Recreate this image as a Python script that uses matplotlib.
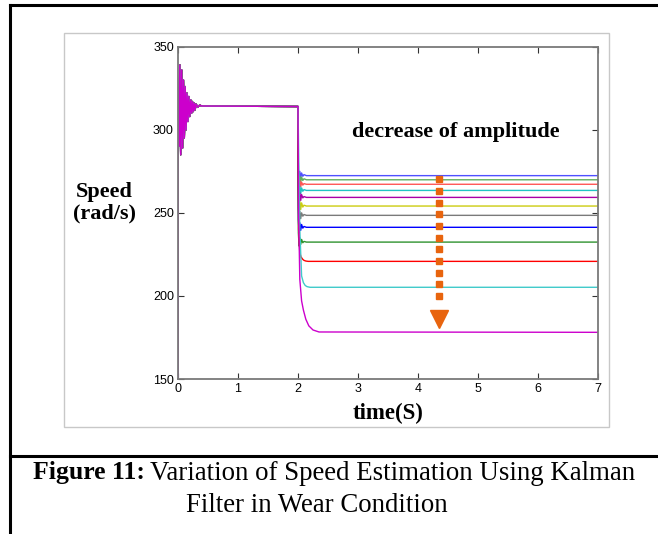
import numpy as np
import matplotlib.pyplot as plt
from matplotlib.lines import Line2D
from matplotlib.patches import Rectangle

# start-up transient, shared by every run
t_init = [0.000, 0.005, 0.015, 0.030, 0.045, 0.060, 0.075, 0.090, 0.105, 0.120,
          0.135, 0.150, 0.165, 0.180, 0.195, 0.210, 0.225, 0.240, 0.255, 0.270,
          0.285, 0.300, 0.330, 0.360, 0.400]
v_init = [150, 300, 290, 339, 285, 336, 289, 330, 295, 326,
          300, 322, 305, 320, 308, 318, 310, 317, 311, 316,
          312, 315.5, 313.5, 314.8, 314.3]

# after the load step at t = 2 s, one run per wear level
t_ring = [2.000, 2.006, 2.018, 2.030, 2.045, 2.060, 2.080, 2.100, 2.140, 7.000]
blue1 = [314, 276, 270, 275, 271, 274, 272, 273, 272.4, 272.4]
green1 = [314, 274, 267, 272, 268.5, 271.5, 269.5, 270.5, 269.9, 269.9]
red1 = [314, 271, 264, 269.5, 265.5, 268.5, 266.7, 267.6, 267.2, 267.2]
cyan1 = [314, 268, 260, 266, 261.5, 265, 263, 264, 263.5, 263.5]
mag1 = [314, 264, 256, 262, 257.5, 261, 259, 259.8, 259.3, 259.3]
yel1 = [314, 259, 250, 257, 252, 256, 253.5, 254.6, 254.1, 254.1]
gray1 = [314, 253, 245, 251, 246.5, 250, 248, 249, 248.5, 248.5]
blue2 = [314, 246, 238, 244, 239.5, 243, 240.8, 241.8, 241.3, 241.3]
green2 = [314, 238, 230, 235, 231, 234, 232, 232.8, 232.4, 232.4]

t_red2 = [2.0, 2.01, 2.03, 2.05, 2.08, 2.10, 2.13, 2.17, 7.0]
red2 = [314, 240, 226, 223.5, 222, 221.4, 221.0, 220.8, 220.8]
t_cyan2 = [2.0, 2.03, 2.06, 2.09, 2.12, 2.15, 2.2, 7.0]
cyan2 = [314, 240, 212, 208, 206.3, 205.6, 205.2, 205.2]
t_mag2 = [2.0, 2.01, 2.03, 2.06, 2.09, 2.13, 2.18, 2.25, 2.35, 7.0]
mag2 = [314, 250, 210, 197, 191.5, 186, 182, 179.5, 178.3, 178.1]

runs = [
    (t_ring, blue1, '#5050ff'),
    (t_ring, green1, '#60b060'),
    (t_ring, red1, '#ff5555'),
    (t_ring, cyan1, '#20c4c4'),
    (t_ring, mag1, '#a800a8'),
    (t_ring, yel1, '#cccc10'),
    (t_ring, gray1, '#7a7a7a'),
    (t_ring, blue2, '#0000ff'),
    (t_ring, green2, '#2e922e'),
    (t_red2, red2, '#ff0000'),
    (t_cyan2, cyan2, '#40caca'),
    (t_mag2, mag2, '#cc00cc'),
]

# orange "decrease" arrow
arrow_t = 4.35
dots_v = [270.2, 263.2, 256.1, 249.1, 242.1, 235.0, 228.0, 221.0, 213.9, 206.9, 199.8]
head_v = 186.1

fig = plt.figure(figsize=(6.58, 5.34), dpi=100)

# page frame lines and the light grey figure box
fig.add_artist(Line2D([10/658, 1], [1-5/534, 1-5/534], color='black', lw=2.2))
fig.add_artist(Line2D([10/658, 10/658], [0, 1-5/534], color='black', lw=2.2))
fig.add_artist(Line2D([10/658, 1], [1-456/534, 1-456/534], color='black', lw=2.2))
fig.add_artist(Rectangle((64/658, 1-427/534), (609-64)/658, (427-33)/534,
                         fill=False, ec='#c8c8c8', lw=1.0))

ax = fig.add_axes([178/658, 1-379/534, 420/658, (379-46.7)/534])
for t_after, v_after, col in runs:
    ax.plot(t_init + t_after, v_init + v_after, color=col, lw=1.0)

ax.plot([arrow_t]*len(dots_v), dots_v, ls='none', marker='s', ms=4.6,
        color='#e8640e')
ax.plot([arrow_t], [head_v], ls='none', marker='v', ms=13, color='#e8640e')

ax.set_xlim(0, 7)
ax.set_ylim(150, 350)
ax.set_xticks(range(0, 8))
ax.set_yticks([150, 200, 250, 300, 350])
for s in ax.spines.values():
    s.set_color('#7a7a7a')
    s.set_linewidth(1.3)
ax.tick_params(direction='in', length=4, width=0.8, color='#333333',
               top=True, right=True, labelsize=9, pad=3)
for lab in ax.get_xticklabels() + ax.get_yticklabels():
    lab.set_family('Liberation Sans')

serif = 'Liberation Serif'
fig.text(104/658, 1-192/534, 'Speed', ha='center', va='center',
         family=serif, weight='bold', fontsize=16)
fig.text(104/658, 1-213/534, '(rad/s)', ha='center', va='center',
         family=serif, weight='bold', fontsize=16)
fig.text(388/658, 1-413/534, 'time(S)', ha='center', va='center',
         family=serif, weight='bold', fontsize=16.5)
fig.text(456/658, 1-132/534, 'decrease of amplitude', ha='center', va='center',
         family=serif, weight='bold', fontsize=16)

# caption: bold label followed by regular text on the same line
cap1 = fig.text(33/658, 1-473/534, 'Figure 11:', ha='left', va='center',
                family=serif, weight='bold', fontsize=18.5)
fig.canvas.draw()
bb = cap1.get_window_extent()
fig.text((bb.x1 + 5)/658, 1-473/534, 'Variation of Speed Estimation Using Kalman',
         ha='left', va='center', family=serif, fontsize=19.4)
fig.text(317/658, 1-505/534, 'Filter in Wear Condition', ha='center', va='center',
         family=serif, fontsize=19.3)

fig.savefig('out.png', dpi=100)
